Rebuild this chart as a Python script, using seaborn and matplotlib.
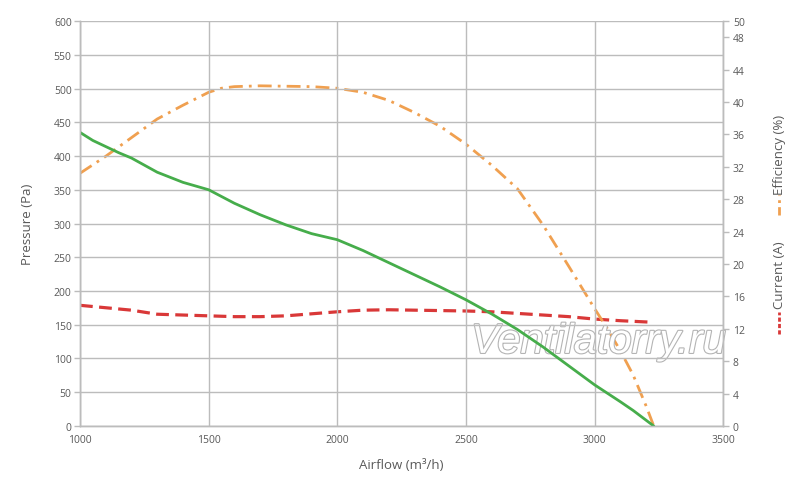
import matplotlib
matplotlib.use("Agg")
import matplotlib.pyplot as plt
import matplotlib.patheffects as pe
from matplotlib.lines import Line2D
import seaborn as sns
import pandas as pd

# pressure curve (left axis)
airflow_p = [1000, 1050, 1100, 1150, 1200, 1300, 1400, 1500, 1600, 1700, 1800, 1900, 2000,
             2100, 2200, 2300, 2400, 2500, 2600, 2700, 2800, 2900, 3000, 3100, 3150, 3230]
pressure = [435, 423, 414, 405, 397, 376, 361, 350, 330, 313, 298, 285, 276,
            260, 242, 224, 206, 187, 166, 143, 117, 89, 61, 36, 23, 0]

# efficiency curve (right axis)
airflow_e = [1000, 1100, 1200, 1300, 1400, 1500, 1550, 1600, 1700, 1800, 1900, 2000, 2100,
             2200, 2300, 2400, 2500, 2600, 2700, 2800, 2900, 3000, 3050, 3100, 3150, 3200, 3230]
efficiency = [31.2, 33.3, 35.6, 37.9, 39.6, 41.2, 41.7, 41.9, 42.0, 41.95, 41.9, 41.7, 41.2,
              40.2, 38.7, 37.0, 34.8, 32.2, 29.3, 24.8, 19.7, 14.5, 12.0, 9.3, 6.3, 2.5, 0]

# current curve (right axis)
airflow_c = [1000, 1100, 1200, 1300, 1400, 1500, 1600, 1700, 1800, 1900, 2000, 2100,
             2200, 2300, 2400, 2500, 2600, 2700, 2800, 2900, 3000, 3100, 3230]
current = [14.9, 14.6, 14.3, 13.8, 13.7, 13.6, 13.5, 13.5, 13.6, 13.85, 14.1, 14.3,
           14.35, 14.3, 14.25, 14.2, 14.1, 13.9, 13.7, 13.5, 13.2, 13.0, 12.8]

x_ticks = [1000, 1500, 2000, 2500, 3000, 3500]
p_ticks = list(range(0, 601, 50))
r_ticks = list(range(0, 49, 4)) + [50]

green = "#46ad4b"
orange = "#f0a050"
red = "#d93838"
grid_c = "#bcbcbc"
text_c = "#595959"

sns.set_style("white")
plt.rcParams["font.family"] = ["Open Sans", "DejaVu Sans"]

df_p = pd.DataFrame({"airflow": airflow_p, "pressure": pressure})
df_e = pd.DataFrame({"airflow": airflow_e, "efficiency": efficiency})
df_c = pd.DataFrame({"airflow": airflow_c, "current": current})

fig = plt.figure(figsize=(8, 4.85), dpi=100)

# watermark sits under the plot
fig.text(0.748, 0.293, "Ventilatorry.ru", fontsize=30, style="italic", ha="center",
         va="center", color="white", family="Liberation Sans", zorder=0,
         path_effects=[pe.withStroke(linewidth=1.6, foreground="#b4b4b4")])

ax = fig.add_axes([0.1, 0.1196, 0.804, 0.835])
ax.patch.set_visible(False)
ax2 = ax.twinx()
ax2.patch.set_visible(False)

ax.set_xlim(1000, 3500)
ax.set_ylim(0, 600)
ax2.set_ylim(0, 50)

ax.set_xticks(x_ticks)
ax.set_yticks(p_ticks)
ax2.set_yticks(r_ticks)

ax.grid(True, color=grid_c, linewidth=1.0)
ax.set_axisbelow(True)

sns.lineplot(data=df_c, x="airflow", y="current", ax=ax2, color=red, linewidth=2.3,
             linestyle=(0, (4, 2)))
sns.lineplot(data=df_p, x="airflow", y="pressure", ax=ax, color=green, linewidth=2.0)
sns.lineplot(data=df_e, x="airflow", y="efficiency", ax=ax2, color=orange, linewidth=2.0,
             linestyle=(0, (5, 2.2, 1, 2.2)))

ax.set_zorder(ax2.get_zorder() + 1)

for a in (ax, ax2):
    for s in a.spines.values():
        s.set_color(grid_c)
        s.set_linewidth(1.0)
    a.spines["top"].set_visible(False)
    a.set_xlabel("")
    a.set_ylabel("")

ax.tick_params(axis="both", labelsize=7.5, colors=text_c, length=4, width=1,
               color=grid_c, pad=2)
ax.tick_params(axis="x", length=0, pad=6)
ax2.tick_params(axis="y", labelsize=7.5, colors=text_c, length=4, width=1,
                color=grid_c, pad=3)

ax.set_xlabel("Airflow (m³/h)", fontsize=9.5, color=text_c, labelpad=9)
ax.set_ylabel("Pressure (Pa)", fontsize=9.5, color=text_c, labelpad=14)

# right-hand axis titles with their line keys
fig.text(0.974, 0.68, "Efficiency (%)", rotation=90, ha="center", va="center",
         fontsize=9.5, color=text_c)
fig.add_artist(Line2D([0.974, 0.974], [0.555, 0.595], transform=fig.transFigure,
                      color=orange, linewidth=2.0, linestyle=(0, (3, 1.5, 1, 1.5))))
fig.text(0.974, 0.432, "Current (A)", rotation=90, ha="center", va="center",
         fontsize=9.5, color=text_c)
fig.add_artist(Line2D([0.974, 0.974], [0.31, 0.355], transform=fig.transFigure,
                      color=red, linewidth=2.0, linestyle=(0, (1.5, 0.8))))

fig.savefig("out.png", dpi=100)
